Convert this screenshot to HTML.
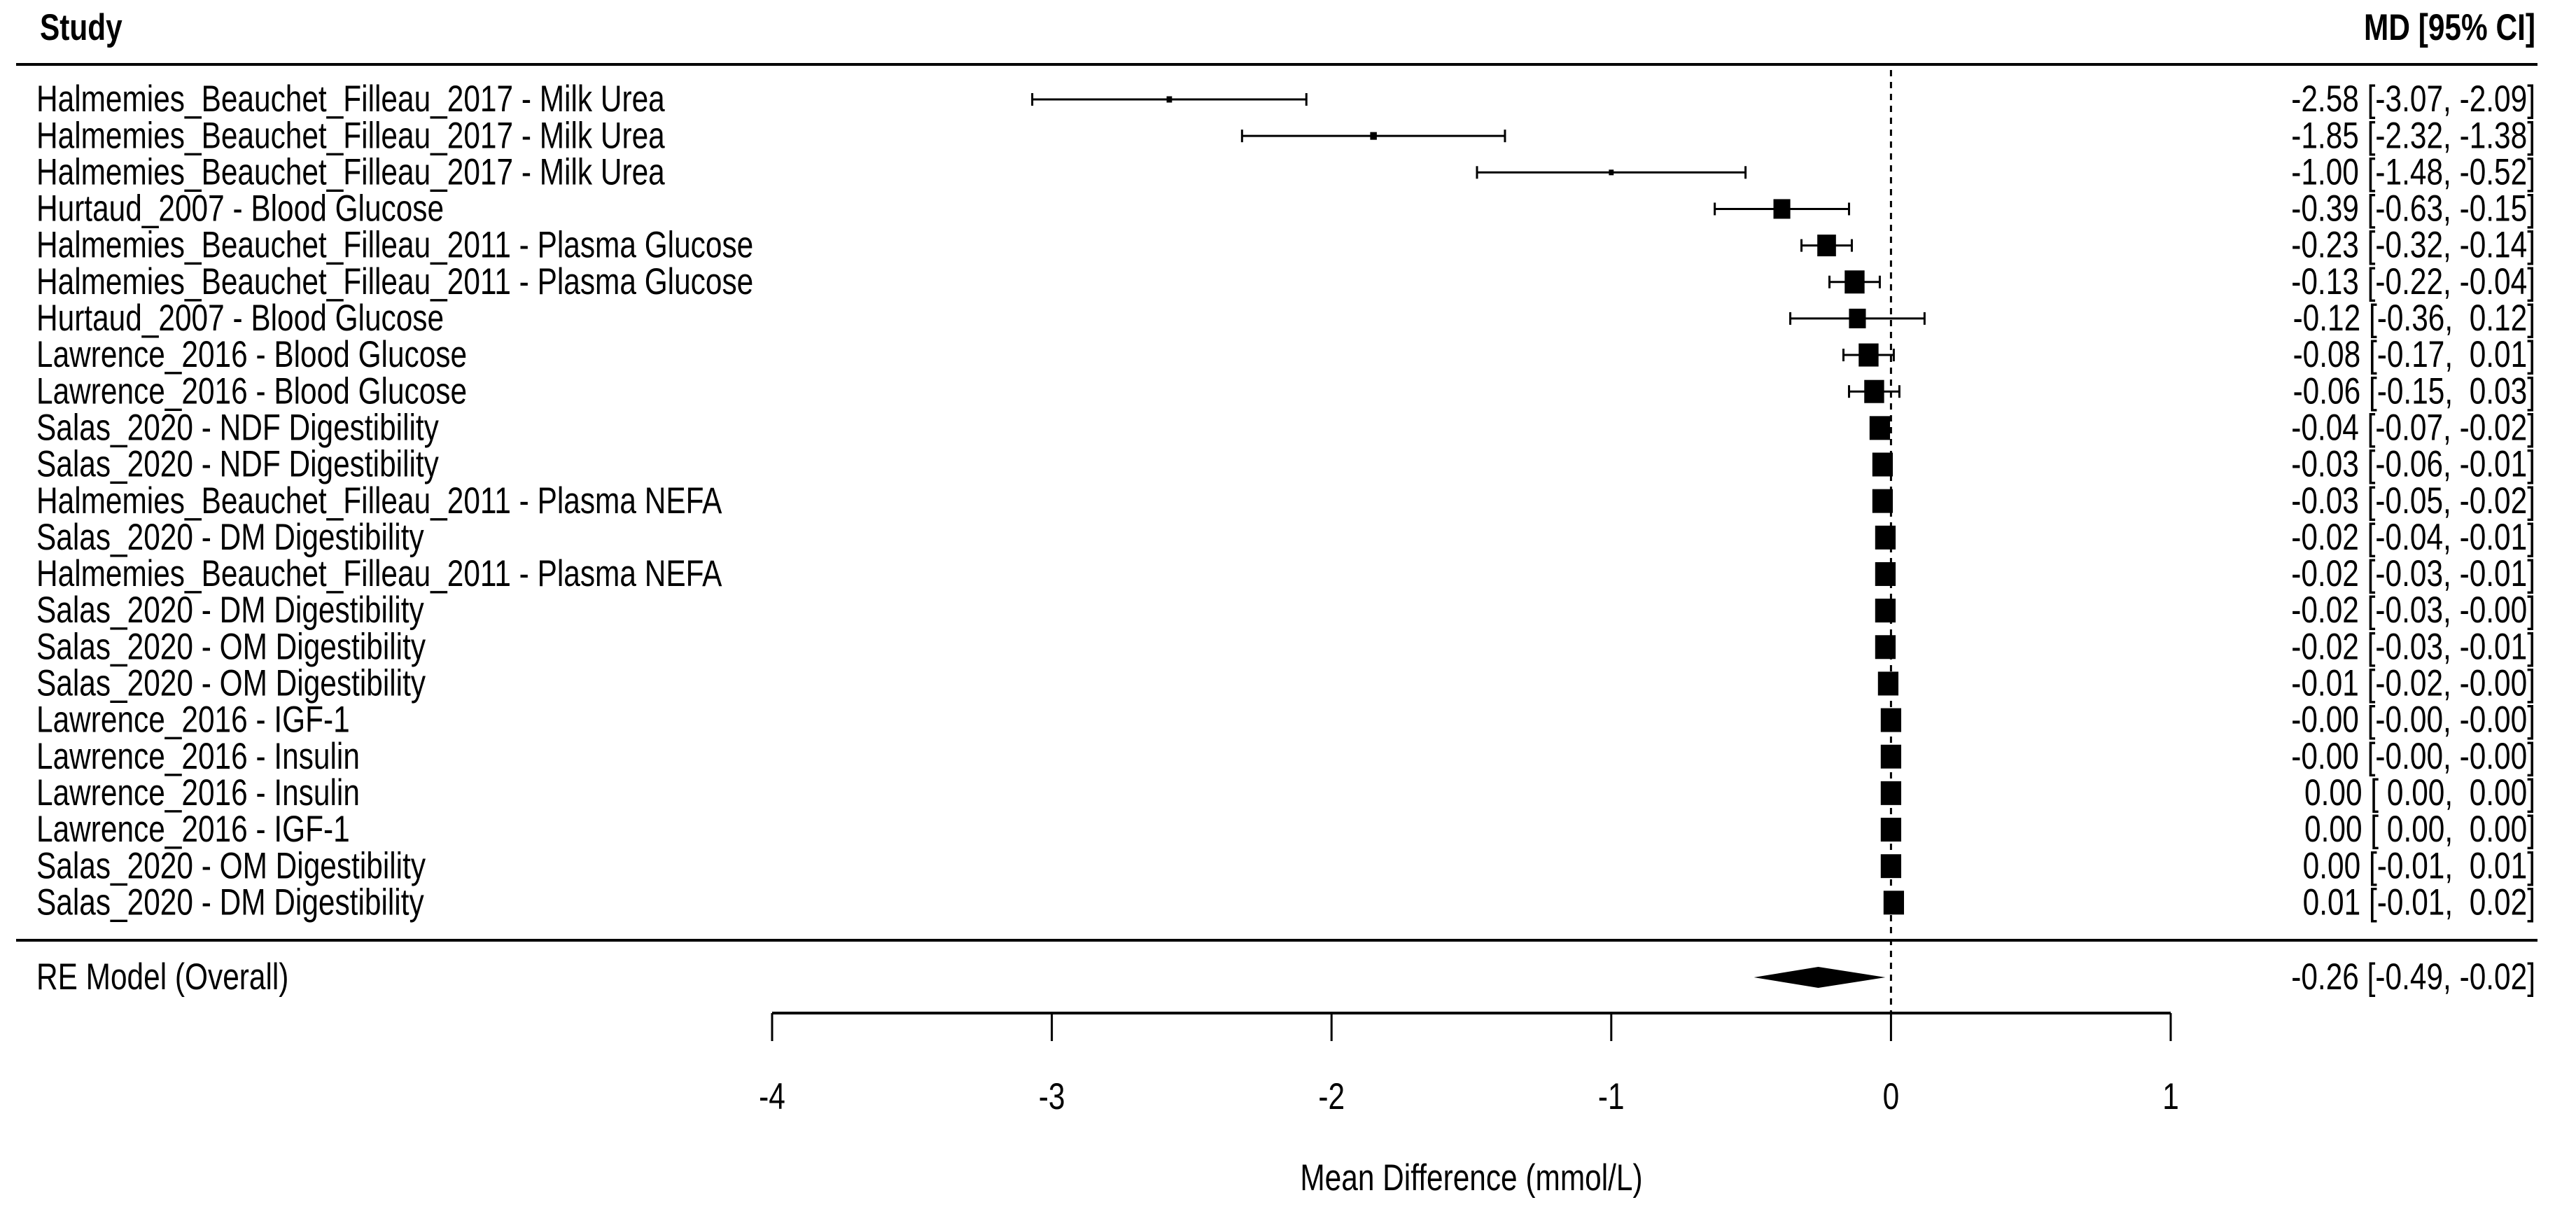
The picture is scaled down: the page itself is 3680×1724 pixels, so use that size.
<!DOCTYPE html>
<html><head><meta charset="utf-8"><style>
html,body{margin:0;padding:0;background:#fff;}
svg{display:block;}
text{font-family:"Liberation Sans",Arial,sans-serif;fill:#000;white-space:pre;}
</style></head><body>
<svg id="chart" width="3680" height="1724" viewBox="0 0 3680 1724" xmlns="http://www.w3.org/2000/svg"></svg>
<script>
const studies = [
"Halmemies_Beauchet_Filleau_2017 - Milk Urea",
"Halmemies_Beauchet_Filleau_2017 - Milk Urea",
"Halmemies_Beauchet_Filleau_2017 - Milk Urea",
"Hurtaud_2007 - Blood Glucose",
"Halmemies_Beauchet_Filleau_2011 - Plasma Glucose",
"Halmemies_Beauchet_Filleau_2011 - Plasma Glucose",
"Hurtaud_2007 - Blood Glucose",
"Lawrence_2016 - Blood Glucose",
"Lawrence_2016 - Blood Glucose",
"Salas_2020 - NDF Digestibility",
"Salas_2020 - NDF Digestibility",
"Halmemies_Beauchet_Filleau_2011 - Plasma NEFA",
"Salas_2020 - DM Digestibility",
"Halmemies_Beauchet_Filleau_2011 - Plasma NEFA",
"Salas_2020 - DM Digestibility",
"Salas_2020 - OM Digestibility",
"Salas_2020 - OM Digestibility",
"Lawrence_2016 - IGF-1",
"Lawrence_2016 - Insulin",
"Lawrence_2016 - Insulin",
"Lawrence_2016 - IGF-1",
"Salas_2020 - OM Digestibility",
"Salas_2020 - DM Digestibility"];
const md    = [-2.58,-1.85,-1.00,-0.39,-0.23,-0.13,-0.12,-0.08,-0.06,-0.04,-0.03,-0.03,-0.02,-0.02,-0.02,-0.02,-0.01,-0.00,-0.00,0.00,0.00,0.00,0.01];
const lower = [-3.07,-2.32,-1.48,-0.63,-0.32,-0.22,-0.36,-0.17,-0.15,-0.07,-0.06,-0.05,-0.04,-0.03,-0.03,-0.03,-0.02,-0.00,-0.00,0.00,0.00,-0.01,-0.01];
const upper = [-2.09,-1.38,-0.52,-0.15,-0.14,-0.04,0.12,0.01,0.03,-0.02,-0.01,-0.02,-0.01,-0.01,-0.00,-0.01,-0.00,-0.00,-0.00,0.00,0.00,0.01,0.02];
const ciText = ["-2.58 [-3.07, -2.09]","-1.85 [-2.32, -1.38]","-1.00 [-1.48, -0.52]","-0.39 [-0.63, -0.15]","-0.23 [-0.32, -0.14]","-0.13 [-0.22, -0.04]","-0.12 [-0.36,  0.12]","-0.08 [-0.17,  0.01]","-0.06 [-0.15,  0.03]","-0.04 [-0.07, -0.02]","-0.03 [-0.06, -0.01]","-0.03 [-0.05, -0.02]","-0.02 [-0.04, -0.01]","-0.02 [-0.03, -0.01]","-0.02 [-0.03, -0.00]","-0.02 [-0.03, -0.01]","-0.01 [-0.02, -0.00]","-0.00 [-0.00, -0.00]","-0.00 [-0.00, -0.00]"," 0.00 [ 0.00,  0.00]"," 0.00 [ 0.00,  0.00]"," 0.00 [-0.01,  0.01]"," 0.01 [-0.01,  0.02]"];
const weights = [9,11,8,28,31,33,28,33,33,34,34,34,34,34,34,34,34,34,34,34,34,34,34];
const overall = {md:-0.26, lo:-0.49, hi:-0.02, label:"-0.26 [-0.49, -0.02]"};
const ticks = [-4,-3,-2,-1,0,1];
const tickLabels = ["-4","-3","-2","-1","0","1"];

const NS="http://www.w3.org/2000/svg";
const svg=document.getElementById('chart');
const X0=1103, X1=3101, XMIN=-4, XMAX=1;
function xs(v){return X0+(v-XMIN)/(XMAX-XMIN)*(X1-X0);}
const ROW0=142, ROWH=52.15;
function ys(i){return ROW0+i*ROWH;}
const SX=0.8, FS=53;
function el(tag,attrs){const e=document.createElementNS(NS,tag);for(const k in attrs)e.setAttribute(k,attrs[k]);svg.appendChild(e);return e;}
function txt(s,x,y,anchor,bold){
  const t=el('text',{x:x/SX,y:y,'font-size':FS,'text-anchor':anchor||'start',transform:'scale('+SX+',1)','dominant-baseline':'central'});
  if(bold)t.setAttribute('font-weight','bold');
  t.textContent=s;return t;
}
function line(x1,y1,x2,y2,w){return el('line',{x1:x1,y1:y1,x2:x2,y2:y2,stroke:'#000','stroke-width':w||3});}

let h=txt("Study",57,40,'start',true);


h=txt("MD [95% CI]",3622,40,'end',true);


let l=line(23,92,3625,92,4);


l=line(23,1343,3625,1343,4);



l=el('line',{x1:xs(0),y1:100,x2:xs(0),y2:1447,stroke:'#000','stroke-width':3,'stroke-dasharray':'9,8'});



for(let i=0;i<studies.length;i++){
  const y=ys(i);
  const lab=txt(studies[i],52,y,'start');
  
  
  const ci=txt(ciText[i],3622,y,'end');
  
  
  const a=xs(lower[i]), b=xs(upper[i]);
  const eb=line(a,y,b,y,3);
  
  
  if(b-a>4){
    const c1=line(a,y-9,a,y+9,3);
    
    
    const c2=line(b,y-9,b,y+9,3);
    
    
  }
  const w=weights[i]*0.86, hh=weights[i];
  const sq=el('rect',{x:xs(md[i])-w/2,y:y-hh/2,width:w,height:hh,fill:'#000'});
  
  
}

const yo=1396;
let t=txt("RE Model (Overall)",52,yo,'start');


t=txt(overall.label,3622,yo,'end');


const dm=el('polygon',{points:[xs(overall.lo)+','+yo, xs(overall.md)+','+(yo-15), xs(overall.hi)+','+yo, xs(overall.md)+','+(yo+15)].join(' '),fill:'#000'});



l=line(xs(XMIN),1447,xs(XMAX),1447,4);


for(let k=0;k<ticks.length;k++){
  const x=xs(ticks[k]);
  const tk=line(x,1447,x,1487,3);
  
  
  const tl=txt(tickLabels[k],x,1567,'middle');
  
  
}
t=txt("Mean Difference (mmol/L)",(xs(XMIN)+xs(XMAX))/2,1683,'middle');


</script>
</body></html>
